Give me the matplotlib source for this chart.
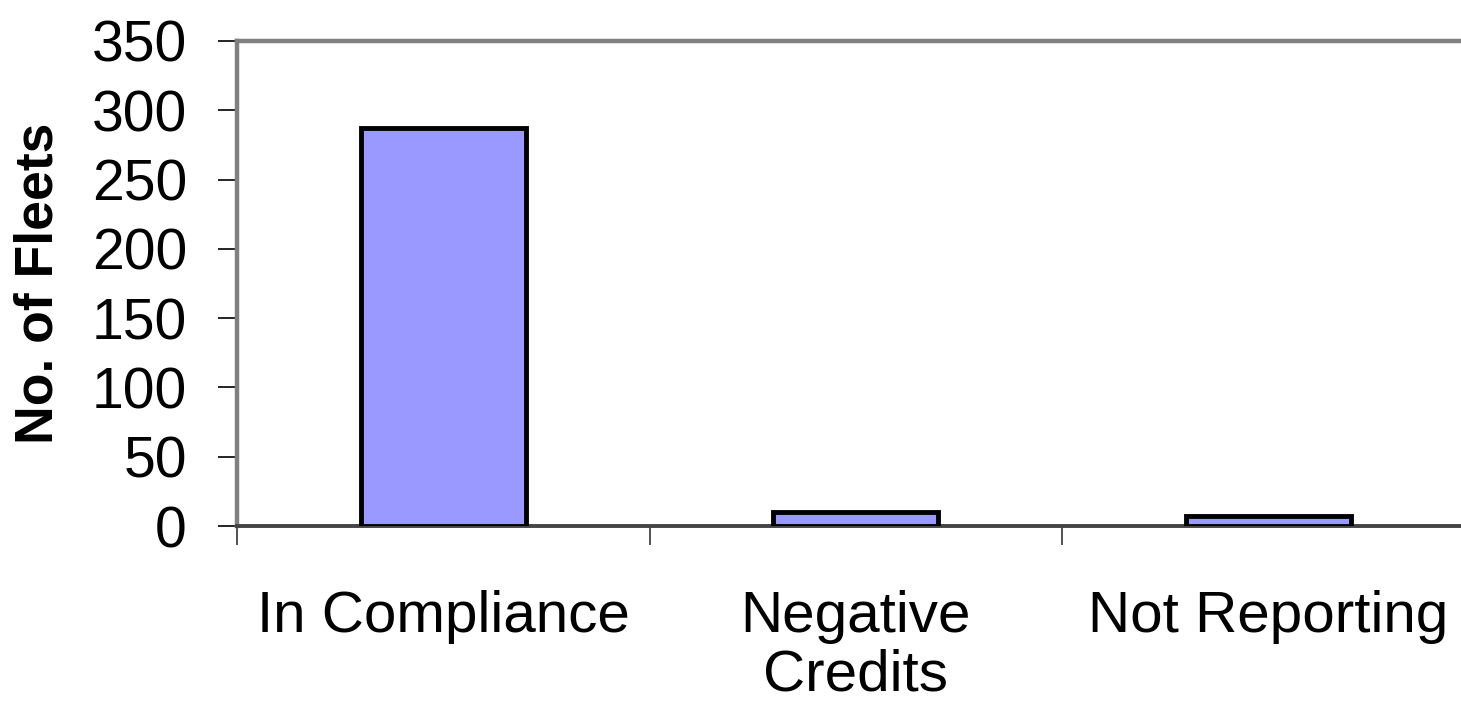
import matplotlib.pyplot as plt
import numpy as np

plt.rcParams['font.family'] = ['Liberation Sans', 'DejaVu Sans']

categories = ['In Compliance', 'Negative\nCredits', 'Not Reporting']
fleets = [287, 10, 7]
y_ticks = [0, 50, 100, 150, 200, 250, 300, 350]

fig = plt.figure(figsize=(14.61, 7.15), dpi=100)
# axes runs a little past the right edge of the figure, like the original
ax = fig.add_axes([237 / 1461, 189 / 715, 1237.5 / 1461, 485 / 715])

x = np.arange(len(categories))
ax.bar(x, fleets, width=0.4, color='#9999ff', edgecolor='black', linewidth=3.5, zorder=3)

ax.set_xlim(-0.5, len(categories) - 0.5)
ax.set_ylim(0, 350)
ax.set_yticks(y_ticks)
ax.tick_params(axis='y', labelsize=41, length=14, width=1.2, pad=22, color='black')

# category boundaries carry the tick marks, labels sit between them
ax.set_xticks(np.arange(-0.5, len(categories), 1.0))
ax.set_xticklabels([])
ax.set_xticks(x, minor=True)
ax.set_xticklabels(categories, minor=True, fontsize=42, linespacing=1.1)
ax.tick_params(axis='x', which='major', length=14, width=1.2, color='#333333')
ax.tick_params(axis='x', which='minor', length=0, pad=46)

ax.set_ylabel('No. of Fleets', fontsize=38.5, fontweight='bold')
ax.yaxis.set_label_coords(-0.14, 0.5)

for side in ['top', 'left']:
    ax.spines[side].set_color('#808080')
    ax.spines[side].set_linewidth(3.2)
ax.spines['bottom'].set_color('#444444')
ax.spines['bottom'].set_linewidth(2.8)
ax.spines['right'].set_visible(False)

plt.savefig('out.png', dpi=100)
plt.close()
